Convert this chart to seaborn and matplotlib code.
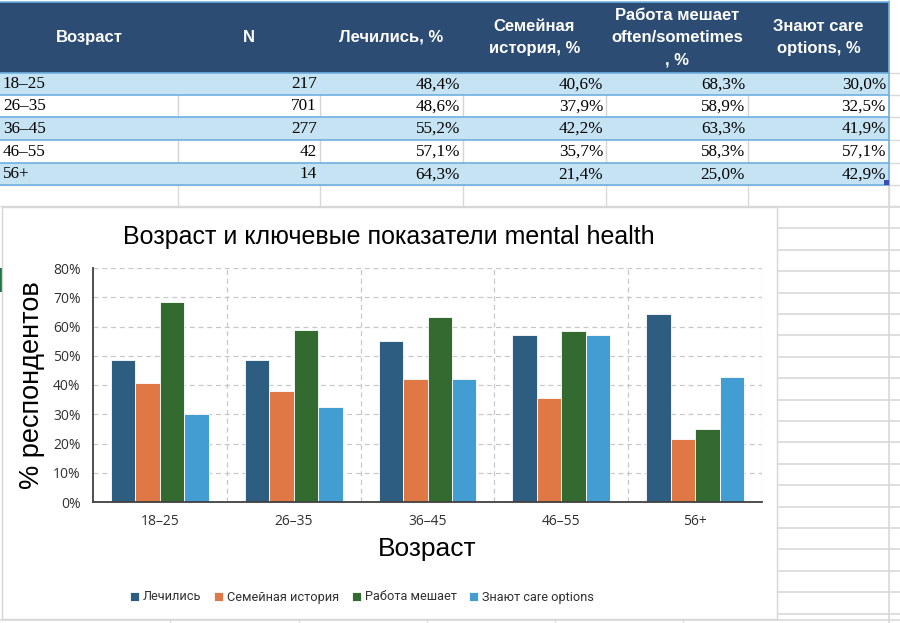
import numpy as np
import pandas as pd
import seaborn as sns
import matplotlib.pyplot as plt
from matplotlib.patches import Rectangle
from matplotlib.lines import Line2D
from matplotlib.ticker import PercentFormatter

# data (from the sheet)
ages = ['18–25', '26–35', '36–45', '46–55', '56+']
n_resp = [217, 701, 277, 42, 14]
treated = [48.4, 48.6, 55.2, 57.1, 64.3]
family = [40.6, 37.9, 42.2, 35.7, 21.4]
work = [68.3, 58.9, 63.3, 58.3, 25.0]
care = [30.0, 32.5, 41.9, 57.1, 42.9]

series = ['Лечились', 'Семейная история', 'Работа мешает', 'Знают care options']
headers = ['Возраст', 'N', 'Лечились, %', 'Семейная\nистория, %',
           'Работа мешает\noften/sometimes\n, %', 'Знают care\noptions, %']
colors = ['#2d5d80', '#df7844', '#336a2f', '#429dd2']

df = pd.DataFrame({'Возраст': ages * 4,
                   'series': np.repeat(series, len(ages)),
                   'value': treated + family + work + care})

sns.set_theme(style='white')
plt.rcParams['font.family'] = ['Liberation Sans', 'DejaVu Sans']

W, H = 900, 623
fig = plt.figure(figsize=(9, 6.23), dpi=100)
fig.patch.set_facecolor('white')


def fx(x):
    return x / W


def fy(y):
    return 1 - y / H


def box(x0, y0, x1, y1, **kw):
    fig.add_artist(Rectangle((fx(x0), fy(y1)), (x1 - x0) / W, (y1 - y0) / H,
                             transform=fig.transFigure, **kw))


def line(x0, y0, x1, y1, **kw):
    fig.add_artist(Line2D([fx(x0), fx(x1)], [fy(y0), fy(y1)],
                          transform=fig.transFigure, **kw))


# spreadsheet grid behind everything
grid_c = '#d9d9d9'
cols = [0, 178, 320, 463, 606, 748, 889]
rows = [73, 95, 117, 140, 163, 185]
for y in rows + [206]:
    line(0, y, 900, y, color=grid_c, lw=1, zorder=0.2)
for y in np.arange(207, 623, 21.4):
    line(777, y, 900, y, color=grid_c, lw=1.2, zorder=0.2)
for x in cols[1:]:
    line(x, 185, x, 207, color=grid_c, lw=1, zorder=0.2)
line(889, 0, 889, 623, color=grid_c, lw=1.2, zorder=0.2)
line(0, 620, 900, 620, color=grid_c, lw=1.2, zorder=0.2)
for x in [170, 299, 427, 555, 683]:
    line(x, 619, x, 623, color=grid_c, lw=1, zorder=0.2)
box(0, 268, 2, 292, fc='#217346', ec='none', zorder=0.3)

# table
box(0, 2, 889, 73, fc='#2c4c74', ec='none', zorder=1)
vals = [treated, family, work, care]
for i in range(len(ages)):
    y0, y1 = rows[i], rows[i + 1]
    if i % 2 == 0:
        box(0, y0, 889, y1, fc='#c6e3f3', ec='none', zorder=1)
    else:
        box(0, y0, 889, y1, fc='white', ec='none', zorder=1)
        for x in cols[1:-1]:
            line(x, y0, x, y1, color='#d4d4d4', lw=1, zorder=1.1)
    yc = (y0 + y1) / 2 + 0.5
    fig.text(fx(3), fy(yc), ages[i], ha='left', va='center', fontsize=12.3,
             family='Liberation Serif', color='black', zorder=3)
    fig.text(fx(cols[2] - 3), fy(yc), str(n_resp[i]), ha='right', va='center',
             fontsize=12.3, family='Liberation Serif', color='black', zorder=3)
    for j, v in enumerate(vals):
        txt = f'{v[i]:.1f}%'.replace('.', ',')
        fig.text(fx(cols[j + 3] - 3), fy(yc), txt, ha='right', va='center',
                 fontsize=12.3, family='Liberation Serif', color='black', zorder=3)
for y in [2] + rows:
    line(0, y, 889, y, color='#6eb0e0', lw=1.2, zorder=1.5)
line(889, 2, 889, 185, color='#6eb0e0', lw=1.2, zorder=1.5)
box(884, 180, 889, 185, fc='#3c4fb0', ec='none', zorder=1.6)
for j, h in enumerate(headers):
    fig.text(fx((cols[j] + cols[j + 1]) / 2), fy(37.5), h, ha='center', va='center',
             fontsize=12, weight='bold', color='white', linespacing=1.6, zorder=3)

# chart box
box(2, 207, 777, 619, fc='white', ec='#d6d6d6', lw=1, zorder=1)

ax = fig.add_axes([fx(93), fy(502), (762 - 93) / W, (502 - 268) / H])
ax.set_zorder(2)
sns.barplot(data=df, x='Возраст', y='value', hue='series', palette=colors,
            width=0.73, saturation=1, edgecolor='white', linewidth=0.6, ax=ax)
ax.set_ylim(0, 80)
ax.set_xlim(-0.5, 4.5)
ax.set_yticks(np.arange(0, 81, 10))
ax.yaxis.set_major_formatter(PercentFormatter(decimals=0))
ax.set_axisbelow(True)
ax.yaxis.grid(True, linestyle=(0, (4, 3)), color='#c8c8c8', lw=0.9)
for xv in np.arange(0.5, 5, 1):
    ax.axvline(xv, linestyle=(0, (4, 3)), color='#c8c8c8', lw=0.9, zorder=0.5)
for s in ['top', 'right']:
    ax.spines[s].set_visible(False)
for s in ['left', 'bottom']:
    ax.spines[s].set_color('#404040')
    ax.spines[s].set_linewidth(1.3)
ax.tick_params(axis='y', length=0, pad=9, labelsize=10, labelcolor='#303030')
ax.tick_params(axis='x', length=0, pad=8.5, labelsize=10, labelcolor='#303030')
for lab in ax.get_xticklabels() + ax.get_yticklabels():
    lab.set_family(['Open Sans', 'DejaVu Sans'])

ax.set_xlabel('Возраст', fontsize=19, color='black')
ax.xaxis.set_label_coords(0.5, -0.15)
ax.set_ylabel('% респондентов', fontsize=19.5, color='black')
ax.yaxis.set_label_coords(-0.072, 0.5)

handles, labels = ax.get_legend_handles_labels()
ax.get_legend().remove()
leg = fig.legend(handles, labels, loc='center', bbox_to_anchor=(fx(362), fy(597)),
                 ncol=4, frameon=False, handlelength=0.7,
                 handleheight=0.7, handletextpad=0.3, columnspacing=1.0,
                 prop={'family': ['Roboto', 'DejaVu Sans'], 'size': 9.2})
for t in leg.get_texts():
    t.set_color('#303030')

fig.text(fx(389), fy(237), 'Возраст и ключевые показатели mental health',
         ha='center', va='center', fontsize=18, color='black', zorder=3)

fig.savefig('out.png', dpi=100)
